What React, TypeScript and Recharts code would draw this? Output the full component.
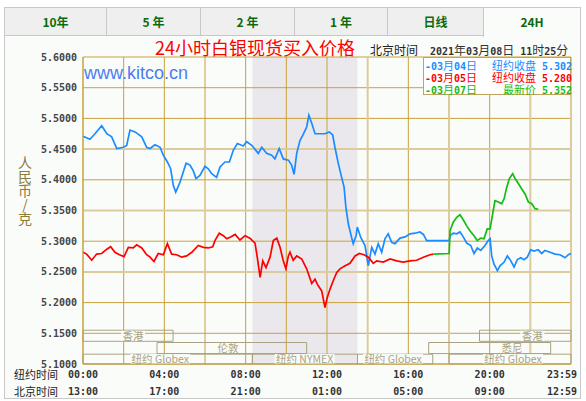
import { LineChart, Line, XAxis, YAxis, CartesianGrid, ReferenceArea } from 'recharts';

const MONO = "'DejaVu Sans Mono', monospace";
const CJK = "'Noto Sans CJK SC', sans-serif";
const GOLD = '#c9a23c';
const TAN = '#dccb9c';

const TABS = ['10年', '5 年', '2 年', '1 年', '日线', '24H'];
const TAB_EDGES = [4, 106, 200, 294, 387, 483, 580];

const Y_TICKS = [5.1, 5.15, 5.2, 5.25, 5.3, 5.35, 5.4, 5.45, 5.5, 5.55, 5.6];
const X_TICKS = [0, 2, 4, 6, 8, 10, 12, 14, 16, 18, 20, 22, 24];
const NY_LABELS: Record<number, string> = { 0: '00:00', 4: '04:00', 8: '08:00', 12: '12:00', 16: '16:00', 20: '20:00', 24: '23:59' };
const BJ_LABELS: Record<number, string> = { 0: '13:00', 4: '17:00', 8: '21:00', 12: '01:00', 16: '05:00', 20: '09:00', 24: '12:59' };

// [hour in NY time, price]
const mar04: [number, number][] = [
  [0, 5.471], [0.34, 5.466], [0.59, 5.475], [0.92, 5.488], [1.17, 5.475], [1.41, 5.47], [1.66, 5.451], [1.98, 5.453],
  [2.15, 5.456], [2.31, 5.481], [2.56, 5.478], [2.89, 5.47], [3.13, 5.453], [3.3, 5.451], [3.54, 5.457], [3.79, 5.453],
  [3.95, 5.44], [4.15, 5.429], [4.31, 5.418], [4.44, 5.391], [4.56, 5.38], [4.77, 5.396], [5.07, 5.427], [5.26, 5.424],
  [5.42, 5.415], [5.56, 5.402], [5.75, 5.407], [6.0, 5.422], [6.16, 5.418], [6.33, 5.41], [6.57, 5.404], [6.74, 5.421],
  [6.98, 5.429], [7.2, 5.429], [7.39, 5.448], [7.59, 5.459], [7.88, 5.455], [8.05, 5.462], [8.3, 5.456], [8.38, 5.453],
  [8.62, 5.443], [8.79, 5.453], [9.03, 5.443], [9.28, 5.44], [9.44, 5.434], [9.65, 5.451], [9.85, 5.434], [10.1, 5.432],
  [10.26, 5.424], [10.38, 5.409], [10.51, 5.443], [10.67, 5.464], [10.83, 5.474], [11.0, 5.486], [11.11, 5.505], [11.25, 5.492],
  [11.41, 5.475], [11.66, 5.475], [11.9, 5.475], [12.11, 5.478], [12.28, 5.473], [12.39, 5.453], [12.56, 5.426], [12.72, 5.404],
  [12.84, 5.388], [12.93, 5.355], [13.05, 5.328], [13.21, 5.306], [13.29, 5.296], [13.43, 5.309], [13.49, 5.323], [13.66, 5.306],
  [13.87, 5.293], [14.03, 5.26], [14.2, 5.29], [14.36, 5.279], [14.52, 5.296], [14.69, 5.282], [14.85, 5.304], [15.01, 5.312],
  [15.18, 5.298], [15.34, 5.296], [15.59, 5.305], [15.84, 5.307], [16.08, 5.312], [16.33, 5.313], [16.57, 5.315], [16.74, 5.311],
  [16.9, 5.301], [18.01, 5.301], [18.05, 5.309], [18.21, 5.313], [18.38, 5.312], [18.54, 5.315], [18.7, 5.307], [18.87, 5.297],
  [19.07, 5.293], [19.23, 5.28], [19.39, 5.289], [19.56, 5.285], [19.77, 5.293], [19.93, 5.301], [20.02, 5.304], [20.1, 5.276],
  [20.21, 5.263], [20.38, 5.252], [20.51, 5.26], [20.71, 5.266], [20.87, 5.276], [21.04, 5.268], [21.2, 5.258], [21.36, 5.27],
  [21.53, 5.273], [21.69, 5.27], [21.85, 5.274], [22.02, 5.286], [22.18, 5.284], [22.39, 5.286], [22.56, 5.28], [22.72, 5.285],
  [22.97, 5.282], [23.21, 5.279], [23.46, 5.278], [23.71, 5.273], [23.87, 5.278], [24, 5.28],
];

const mar05: [number, number][] = [
  [0, 5.282], [0.18, 5.279], [0.43, 5.269], [0.67, 5.279], [0.92, 5.28], [1.17, 5.287], [1.36, 5.291], [1.57, 5.282],
  [1.79, 5.278], [2.02, 5.275], [2.23, 5.29], [2.47, 5.289], [2.64, 5.294], [2.89, 5.289], [3.13, 5.278], [3.3, 5.274],
  [3.49, 5.267], [3.7, 5.28], [3.95, 5.278], [4.15, 5.296], [4.36, 5.279], [4.61, 5.278], [4.85, 5.274], [5.1, 5.276],
  [5.35, 5.282], [5.67, 5.293], [5.92, 5.29], [6.16, 5.289], [6.38, 5.291], [6.49, 5.301], [6.7, 5.313], [6.9, 5.309],
  [7.07, 5.304], [7.26, 5.307], [7.48, 5.311], [7.72, 5.302], [7.97, 5.309], [8.21, 5.305], [8.46, 5.297], [8.57, 5.274],
  [8.71, 5.241], [8.84, 5.268], [9.0, 5.257], [9.2, 5.274], [9.36, 5.301], [9.53, 5.305], [9.69, 5.29], [9.85, 5.268],
  [9.98, 5.255], [10.1, 5.276], [10.18, 5.282], [10.34, 5.269], [10.51, 5.276], [10.76, 5.271], [11.0, 5.255], [11.25, 5.231],
  [11.41, 5.238], [11.52, 5.23], [11.74, 5.219], [11.9, 5.192], [12.01, 5.208], [12.15, 5.222], [12.31, 5.236], [12.48, 5.249],
  [12.64, 5.255], [12.89, 5.26], [13.13, 5.264], [13.38, 5.276], [13.59, 5.28], [13.82, 5.278], [14.03, 5.274], [14.28, 5.264],
  [14.44, 5.268], [14.77, 5.266], [15.1, 5.271], [15.43, 5.268], [15.75, 5.266], [16.08, 5.268], [16.41, 5.269], [16.74, 5.274],
  [17.07, 5.278], [17.23, 5.279],
];

const mar07: [number, number][] = [
  [17.23, 5.279], [18.01, 5.28], [18.05, 5.317], [18.21, 5.331], [18.38, 5.339], [18.54, 5.343], [18.7, 5.335], [18.87, 5.325],
  [19.03, 5.317], [19.23, 5.309], [19.39, 5.301], [19.56, 5.305], [19.72, 5.304], [19.88, 5.32], [20.02, 5.32], [20.15, 5.345],
  [20.26, 5.366], [20.43, 5.364], [20.59, 5.361], [20.71, 5.369], [20.84, 5.388], [20.97, 5.402], [21.13, 5.41], [21.25, 5.402],
  [21.41, 5.394], [21.58, 5.385], [21.74, 5.377], [21.9, 5.364], [22.07, 5.361], [22.23, 5.353], [22.39, 5.352],
];

const SERIES = [
  { date: '03月04日', kind: '纽约收盘', last: '5.302', color: '#1a8cff', points: mar04 },
  { date: '03月05日', kind: '纽约收盘', last: '5.280', color: '#ff0000', points: mar05 },
  { date: '03月07日', kind: '最新价', last: '5.352', color: '#14bb14', points: mar07 },
];

// trading sessions, NY hours; labelAt = where the name sits
const SESSIONS = [
  { name: '香港', from: 0, to: 4.43, labelAt: 2.46, row: 0 },
  { name: '香港', from: 19.5, to: 24, labelAt: 22.1, row: 0 },
  { name: '伦敦', from: 3.64, to: 11, labelAt: 7.13, row: 1 },
  { name: '悉尼', from: 17, to: 23, labelAt: 21.1, row: 1 },
  { name: '纽约 Globex', from: 0, to: 8.33, labelAt: 3.8, row: 2 },
  { name: '纽约 NYMEX', from: 8.33, to: 13.5, labelAt: 10.9, row: 2 },
  { name: '纽约 Globex', from: 13.5, to: 17.2, labelAt: 15.25, row: 2 },
  { name: '纽约 Globex', from: 18, to: 24, labelAt: 21.15, row: 2 },
];
const ROW_BANDS = [[5.137, 5.155], [5.117, 5.135], [5.1, 5.116]];

function Mixed({ text, cjk = 12, mono = 10 }: { text: string; cjk?: number; mono?: number }) {
  const parts = text.match(/[\x00-\x7f]+|[^\x00-\x7f]+/g) || [];
  return (
    <>
      {parts.map((p, i) =>
        /^[\x00-\x7f]/.test(p) ? (
          <span key={i} style={{ fontFamily: MONO, fontWeight: 'bold', fontSize: mono, whiteSpace: 'pre' }}>{p}</span>
        ) : (
          <span key={i} style={{ fontFamily: CJK, fontSize: cjk }}>{p}</span>
        )
      )}
    </>
  );
}

function TimeTick({ x, y, payload }: any) {
  const h = payload.value;
  if (h % 4 !== 0) return <g />;
  const last = h === 24;
  const common = { fontFamily: MONO, fontWeight: 'bold', fontSize: 10, fill: '#333' } as any;
  return (
    <g>
      {h === 0 && (
        <>
          <text x={x - 25} y={y + 15} textAnchor="end" fontFamily={CJK} fontSize={11} fill="#222">纽约时间</text>
          <text x={x - 25} y={y + 32} textAnchor="end" fontFamily={CJK} fontSize={11} fill="#222">北京时间</text>
        </>
      )}
      <text x={last ? x + 6 : x} y={y + 14} textAnchor={last ? 'end' : 'middle'} {...common}>{NY_LABELS[h]}</text>
      <text x={last ? x + 6 : x} y={y + 31} textAnchor={last ? 'end' : 'middle'} {...common}>{BJ_LABELS[h]}</text>
    </g>
  );
}

// the session name, centred at labelAt on the x axis
function SessionLabel({ viewBox, value, from, to, labelAt }: any) {
  if (!viewBox) return null;
  const cx = viewBox.x + ((labelAt - from) / (to - from)) * viewBox.width;
  const cy = viewBox.y + viewBox.height / 2;
  const w = value.length > 3 ? 60 : 24;
  return (
    <g>
      <rect x={cx - w / 2} y={cy - 5} width={w} height={10} fill="#fafcfa" />
      <text x={cx} y={cy + 4} textAnchor="middle" fontFamily={CJK} fontSize={10.5} fill="#a8a282">{value}</text>
    </g>
  );
}

export default function App() {
  return (
    <div style={{ position: 'absolute', left: 0, top: 0, width: 586, height: 401, background: '#fff', overflow: 'hidden' }}>
      <div style={{ position: 'absolute', left: 4, top: 35, width: 575, height: 362, border: '1px solid #c8c8c8', background: '#fafcfa' }} />
      {TABS.map((t, i) => {
        const sel = i === TABS.length - 1;
        return (
          <div
            key={t}
            style={{
              position: 'absolute', left: TAB_EDGES[i], top: 7, width: TAB_EDGES[i + 1] - TAB_EDGES[i] - 1, height: sel ? 29 : 27,
              border: '1px solid #c8c8c8', borderBottom: sel ? 'none' : '1px solid #c8c8c8',
              background: sel ? '#fafcfa' : '#efefef', color: '#0b6b0b', fontFamily: CJK, fontWeight: 'bold', fontSize: 12,
              lineHeight: '27px', textAlign: 'center',
            }}
          >
            {t}
          </div>
        );
      })}

      <div style={{ position: 'absolute', left: 155, top: 37, fontFamily: CJK, fontSize: 18, lineHeight: '20px', color: '#ff0000' }}>
        24小时白银现货买入价格
      </div>
      <div style={{ position: 'absolute', left: 370, top: 43, lineHeight: '14px', color: '#222', whiteSpace: 'pre' }}>
        <Mixed text="北京时间" />
      </div>
      <div style={{ position: 'absolute', left: 430, top: 43, lineHeight: '14px', color: '#333', whiteSpace: 'pre' }}>
        <Mixed text="2021年03月08日 11时25分" />
      </div>

      <div
        style={{
          position: 'absolute', left: 17, top: 156, width: 16, height: 72, color: '#8a7c3c', fontFamily: CJK, fontSize: 14,
          lineHeight: '16px', writingMode: 'vertical-rl', textOrientation: 'upright', letterSpacing: 0,
        }}
      >
        人民币/克
      </div>

      <LineChart width={586} height={401} margin={{ top: 57, right: 15, bottom: 0, left: 8 }} style={{ position: 'absolute', left: 0, top: 0 }}>
        <ReferenceArea x1={8.33} x2={13.5} y1={5.1} y2={5.6} fill="#ebe8ed" fillOpacity={1} stroke="none" zIndex={-150} />
        <CartesianGrid stroke={GOLD} horizontalValues={[5.1, 5.15, 5.2, 5.3, 5.4, 5.5, 5.55, 5.6]} verticalValues={[0, 2, 4, 6, 8, 10, 12, 16, 20]} />
        <CartesianGrid stroke={TAN} strokeWidth={2} horizontalValues={[5.25, 5.35, 5.45]} verticalValues={[14, 18, 22, 24]} />
        <XAxis
          type="number" dataKey="h" domain={[0, 24]} ticks={X_TICKS} height={37} interval={0}
          axisLine={{ stroke: GOLD }} tickLine={false} tickSize={0} tickMargin={0} tick={<TimeTick />}
        />
        <YAxis
          type="number" dataKey="v" domain={[5.1, 5.6]} ticks={Y_TICKS} width={75} interval={0}
          axisLine={{ stroke: GOLD }} tickLine={false} tickSize={4} tickMargin={2}
          tickFormatter={(v: number) => v.toFixed(4)}
          tick={{ fontFamily: MONO, fontWeight: 'bold', fontSize: 10, fill: '#444' }}
        />
        {SESSIONS.map((s, i) => (
          <ReferenceArea
            key={i} x1={s.from} x2={s.to} y1={ROW_BANDS[s.row][0]} y2={ROW_BANDS[s.row][1]}
            fill="none" stroke="#a8a282" strokeWidth={1}
            label={<SessionLabel value={s.name} from={s.from} to={s.to} labelAt={s.labelAt} />}
          />
        ))}
        {SERIES.map((s) => (
          <Line
            key={s.date} data={s.points.map(([h, v]) => ({ h, v }))} dataKey="v" type="linear"
            stroke={s.color} strokeWidth={1.7} dot={false} activeDot={false} isAnimationActive={false}
          />
        ))}
        <text x={84} y={79} fontFamily="'Liberation Sans', Arial, sans-serif" fontSize={18} fill="#4a7df0">www.kitco.cn</text>
      </LineChart>

      <div style={{ position: 'absolute', left: 423, top: 57, width: 146, height: 35, border: '1px solid #c0a45c', background: '#fff', paddingTop: 1 }}>
        {SERIES.map((s) => (
          <div key={s.date} style={{ display: 'flex', height: 12, lineHeight: '12px', color: s.color, whiteSpace: 'pre' }}>
            <span style={{ width: 54, paddingLeft: 1 }}><Mixed text={'-' + s.date} cjk={11} /></span>
            <span style={{ flex: 1, textAlign: 'right' }}><Mixed text={s.kind} cjk={11} /></span>
            <span style={{ width: 34 }}><Mixed text={' ' + s.last} /></span>
          </div>
        ))}
      </div>
    </div>
  );
}
